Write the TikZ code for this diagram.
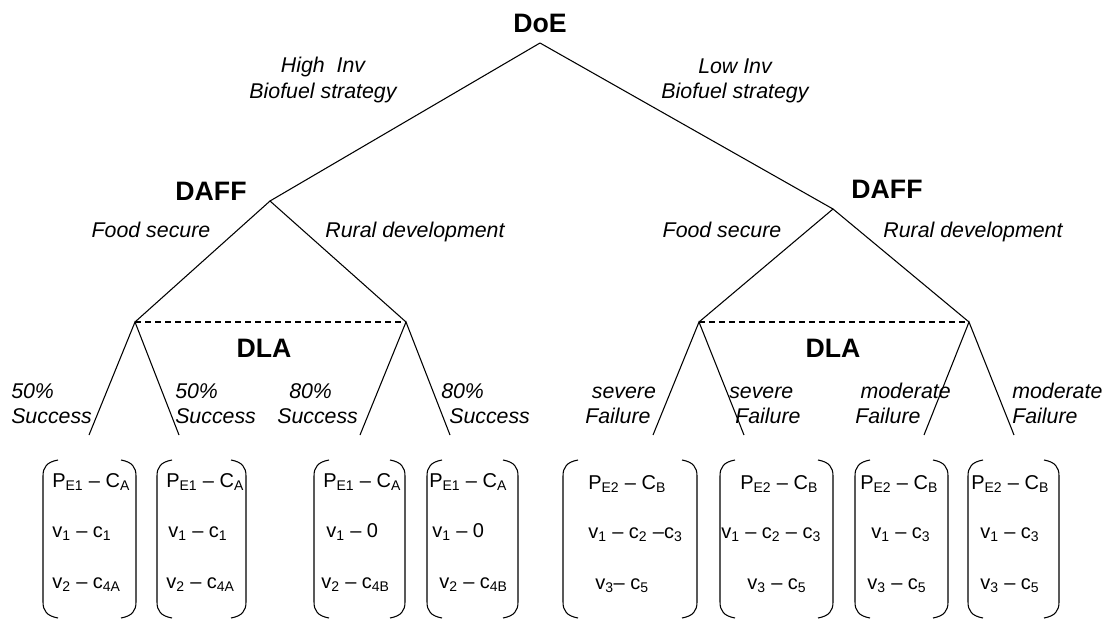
\documentclass[tikz,border=0pt]{standalone}
\usepackage{fontspec}
\setmainfont{Liberation Sans}
\usepackage{tikz}
\usetikzlibrary{positioning}
\usetikzlibrary{calc}
\tikzstyle{player}=[font=\fontsize{20}{24}\selectfont\bfseries, inner sep=0pt, anchor=base]
\tikzstyle{move}=[font=\fontsize{16}{19}\selectfont\itshape, inner sep=0pt]
\tikzstyle{outcome}=[move, align=left, anchor=west]
\tikzstyle{payoff}=[font=\fontsize{15}{18}\selectfont, inner sep=0pt, anchor=base west]
\tikzstyle{line}=[line width=0.8pt]
\tikzstyle{info}=[line width=0.8pt, dash pattern=on 4.5pt off 3pt]

\begin{document}
\begin{tikzpicture}[x=0.75pt, y=-0.75pt]
      \useasboundingbox (0,0) rectangle (1112,620);

      \coordinate (doe) at (540,43);
      \coordinate (daff1) at (270,201);
      \coordinate (daff2) at (833,209);
      \coordinate (dla1) at (135,322);
      \coordinate (dla2) at (406,322);
      \coordinate (dla3) at (699,322);
      \coordinate (dla4) at (969,322);
      \coordinate (leaf1) at (89,435);
      \coordinate (leaf2) at (179,435);
      \coordinate (leaf3) at (360,435);
      \coordinate (leaf4) at (450,435);
      \coordinate (leaf5) at (653,435);
      \coordinate (leaf6) at (744,435);
      \coordinate (leaf7) at (924,435);
      \coordinate (leaf8) at (1014,435);

      \node[player] (doeLabel) at (540,33) {DoE};
      \node[player] (daffLabel1) at (211,200) {DAFF};
      \node[player] (daffLabel2) at (887,199) {DAFF};
      \node[player] (dlaLabel1) at (264,357) {DLA};
      \node[player] (dlaLabel2) at (833,357) {DLA};

      \node[move, align=center] (highInv) at (323,80) {High\ \ Inv\\Biofuel strategy};
      \node[move, align=center] (lowInv) at (735,81) {Low Inv\\Biofuel strategy};
      \node[move, anchor=base] (food1) at (151,238) {Food secure};
      \node[move, anchor=base] (rural1) at (415,238) {Rural development};
      \node[move, anchor=base] (food2) at (722,238) {Food secure};
      \node[move, anchor=base] (rural2) at (973,238) {Rural development};

      \node[outcome] (out1) at (11,403.5) {50\%\\Success};
      \node[outcome] (out2) at (175,403.5) {50\%\\Success};
      \node[outcome] (out3) at (277,403.5) {\hspace*{9pt}80\%\\Success};
      \node[outcome] (out4) at (441,403.5) {80\%\\\hspace*{6pt}Success};
      \node[outcome] (out5) at (585,405.5) {\hspace*{5pt}severe\\Failure};
      \node[outcome] (out6) at (729,405.5) {severe\\\hspace*{4.5pt}Failure};
      \node[outcome] (out7) at (855,403.5) {\hspace*{4pt}moderate\\Failure};
      \node[outcome] (out8) at (1012,403.5) {moderate\\Failure};

      \foreach \n in {daff1, daff2}{
        \draw[line] (doe) -- (\n);
      }
      \draw[line] (dla1) -- (daff1) -- (dla2);
      \draw[line] (dla3) -- (daff2) -- (dla4);
      \draw[info] (dla1) -- (dla2);
      \draw[info] (dla3) -- (dla4);
      \foreach \m/\a/\b in {dla1/leaf1/leaf2, dla2/leaf3/leaf4, dla3/leaf5/leaf6, dla4/leaf7/leaf8}{
        \draw[line] (\a) -- (\m) -- (\b);
      }

      \foreach \l/\r in {43/136, 157/246, 314/405, 427/518, 563/697, 720/833, 855/948, 968/1059}{
        \draw[line] (\l+15,460) .. controls (\l+4,462) and (\l,467) .. (\l,476) -- (\l,602)
          .. controls (\l,611) and (\l+4,616) .. (\l+15,618);
        \draw[line] (\r-15,460) .. controls (\r-4,462) and (\r,467) .. (\r,476) -- (\r,602)
          .. controls (\r,611) and (\r-4,616) .. (\r-15,618);
      }

      \node[payoff] (p11) at (52,487) {P\textsubscript{E1} -- C\textsubscript{A}};
      \node[payoff] (p12) at (52,537) {v\textsubscript{1} -- c\textsubscript{1}};
      \node[payoff] (p13) at (52,588) {v\textsubscript{2} -- c\textsubscript{4A}};
      \node[payoff] (p21) at (166,487) {P\textsubscript{E1} -- C\textsubscript{A}};
      \node[payoff] (p22) at (168,537) {v\textsubscript{1} -- c\textsubscript{1}};
      \node[payoff] (p23) at (166,588) {v\textsubscript{2} -- c\textsubscript{4A}};
      \node[payoff] (p31) at (323,487) {P\textsubscript{E1} -- C\textsubscript{A}};
      \node[payoff] (p32) at (326,537) {v\textsubscript{1} -- 0};
      \node[payoff] (p33) at (321,588) {v\textsubscript{2} -- c\textsubscript{4B}};
      \node[payoff] (p41) at (429,487) {P\textsubscript{E1} -- C\textsubscript{A}};
      \node[payoff] (p42) at (432,537) {v\textsubscript{1} -- 0};
      \node[payoff] (p43) at (439,588) {v\textsubscript{2} -- c\textsubscript{4B}};
      \node[payoff] (p51) at (588,489) {P\textsubscript{E2} -- C\textsubscript{B}};
      \node[payoff] (p52) at (588,538) {v\textsubscript{1} -- c\textsubscript{2} --c\textsubscript{3}};
      \node[payoff] (p53) at (595,589) {v\textsubscript{3}-- c\textsubscript{5}};
      \node[payoff] (p61) at (740,489) {P\textsubscript{E2} -- C\textsubscript{B}};
      \node[payoff] (p62) at (721,538) {v\textsubscript{1} -- c\textsubscript{2} -- c\textsubscript{3}};
      \node[payoff] (p63) at (747,589) {v\textsubscript{3} -- c\textsubscript{5}};
      \node[payoff] (p71) at (860,489) {P\textsubscript{E2} -- C\textsubscript{B}};
      \node[payoff] (p72) at (871,538) {v\textsubscript{1} -- c\textsubscript{3}};
      \node[payoff] (p73) at (867,589) {v\textsubscript{3} -- c\textsubscript{5}};
      \node[payoff] (p81) at (971,489) {P\textsubscript{E2} -- C\textsubscript{B}};
      \node[payoff] (p82) at (980,538) {v\textsubscript{1} -- c\textsubscript{3}};
      \node[payoff] (p83) at (980,589) {v\textsubscript{3} -- c\textsubscript{5}};

    \end{tikzpicture}
\end{document}
